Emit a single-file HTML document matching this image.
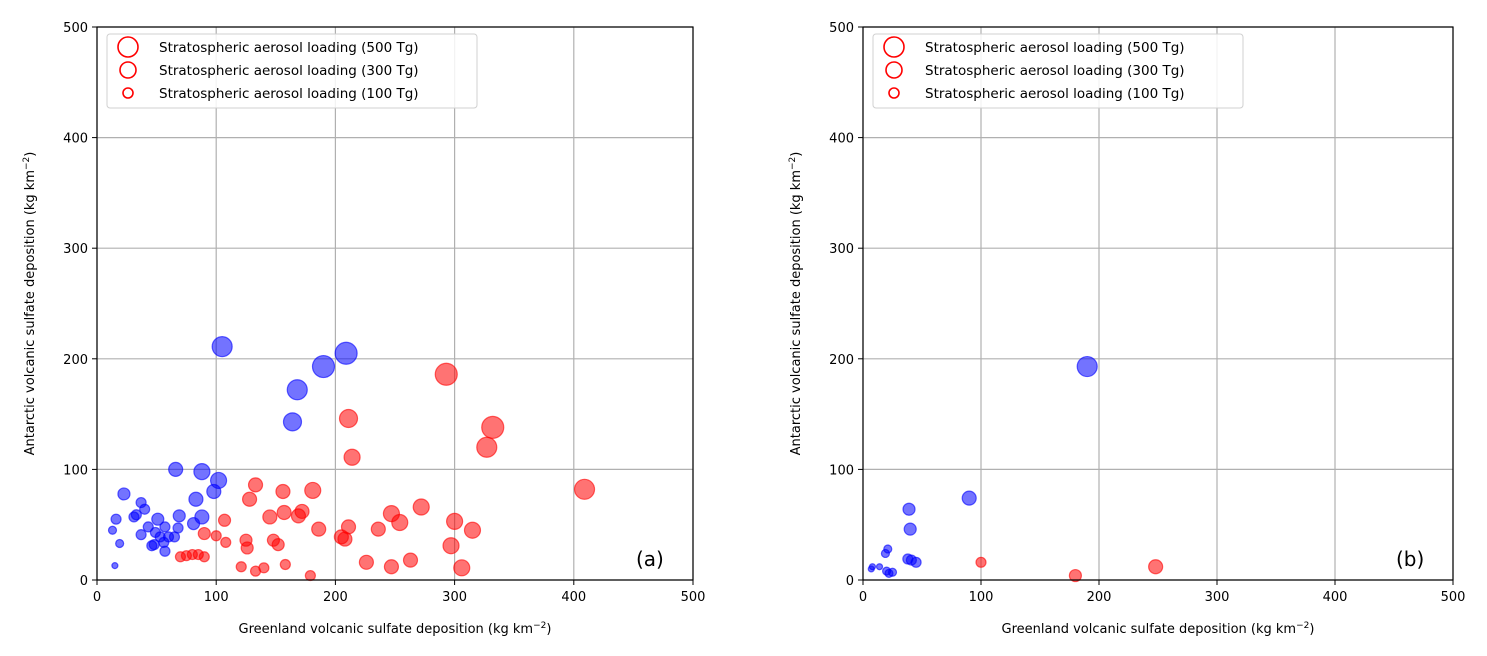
<!DOCTYPE html>
<html><head><meta charset="utf-8"><style>
body{margin:0;background:#fff;}
svg{display:block;font-family:"DejaVu Sans","Liberation Sans",sans-serif;}
</style></head><body>
<svg id="fig" width="1487" height="656" viewBox="0 0 1487 656"></svg>
<script>
// Panel (a) data: Greenland deposition, Antarctic deposition, marker radius (loading)
const aBlueX=[22.6,66,88,102,98,83,37,40,31,33,16,13,69,88,81,51,43,57,68,37,49,53,60,65,56,46,48,57,19,15,105,209,190,168,164];
const aBlueY=[77.8,100,98,90,80,73,70,64,57,59,55,45,58,57,51,55,48,48,47,41,43,39,39,39,34,31,32,26,33,13,211,205,193,172,143];
const aBlueR=[6,7,8,8,7,7,5,5,5,5,5,4,6,7,6,6,5,5,5,5,5,5,5,5,5,5,5,5,4,3,10,11,11,10,9];
const aRedX=[293,332,327,409,211,214,272,247,300,254,315,236,211,186,181,156,133,128,172,157,169,145,107,205,208,297,148,152,125,126,90,100,108,70,75,80,85,90,121,133,140,158,179,226,247,263,306];
const aRedY=[186,138,120,82,146,111,66,60,53,52,45,46,48,46,81,80,86,73,62,61,58,57,54,39,37,31,36,32,36,29,42,40,34,21,22,23,23,21,12,8,11,14,4,16,12,18,11];
const aRedR=[11,11,10,10,9,8,8,8,8,8,8,7,7,7,8,7,7,7,7,7,7,7,6,7,7,8,6,6,6,6,6,5,5,5,5,5,5,5,5,5,5,5,5,7,7,7,8];
// Panel (b) data
const bBlueX=[190,90,39,40,21,19,38,41,45,8,7,14,20,22,25];
const bBlueY=[193,74,64,46,28,24,19,18,16,12,10,12,8,6,7];
const bBlueR=[10,7,6,6,4,4,5,5,5,3,3,3,4,4,4];
const bRedX=[100,180,248];
const bRedY=[16,4,12];
const bRedR=[5,6,7];
const ticks=[0,100,200,300,400,500];
const legendLabels=["Stratospheric aerosol loading (500 Tg)","Stratospheric aerosol loading (300 Tg)","Stratospheric aerosol loading (100 Tg)"];
const legendR=[10,8,5];

const NS="http://www.w3.org/2000/svg";
const svg=document.getElementById('fig');
function mk(tag,attrs,parent){const e=document.createElementNS(NS,tag);for(const k in attrs)e.setAttribute(k,attrs[k]);(parent||svg).appendChild(e);return e;}

function panel(id,x0,x1,y0,y1,blue,red,tag){
  const g=mk('g',{});
  
  
  const sx=v=>x0+(x1-x0)*v/500, sy=v=>y0-(y0-y1)*v/500;
  ticks.forEach(t=>{
    const gv=mk('line',{x1:sx(t),x2:sx(t),y1:y1,y2:y0,stroke:'#b0b0b0','stroke-width':1.2},g);
    
    
    const gh=mk('line',{x1:x0,x2:x1,y1:sy(t),y2:sy(t),stroke:'#b0b0b0','stroke-width':1.2},g);
    
    
    mk('line',{x1:sx(t),x2:sx(t),y1:y0,y2:y0+5,stroke:'#000'},g);
    mk('line',{x1:x0-5,x2:x0,y1:sy(t),y2:sy(t),stroke:'#000'},g);
    const tx=mk('text',{x:sx(t),y:y0+21,'font-size':13,'text-anchor':'middle'},g);tx.textContent=t;
    
    
    const ty=mk('text',{x:x0-9,y:sy(t)+5,'font-size':13,'text-anchor':'end'},g);ty.textContent=t;
    
    
  });
  const draw=(xs,ys,rs,col,name)=>xs.forEach((v,i)=>{
    const c=mk('circle',{cx:sx(v),cy:sy(ys[i]),r:rs[i],fill:col,'fill-opacity':0.55,stroke:col,'stroke-opacity':0.6,'stroke-width':1.2},g);
    
    
  });
  draw(blue[0],blue[1],blue[2],'#0000ff','blue-point');
  draw(red[0],red[1],red[2],'#ff0000','red-point');
  const fr=mk('rect',{x:x0,y:y1,width:x1-x0,height:y0-y1,fill:'none',stroke:'#000','stroke-width':1.2},g);
  
  
  // legend
  const lg=mk('g',{},g);
  
  
  mk('rect',{x:x0+10,y:y1+7,width:370,height:74,rx:3,fill:'#fff','fill-opacity':0.85,stroke:'#d0d0d0'},lg);
  legendLabels.forEach((l,i)=>{
    const cy=y1+20+i*23;
    mk('circle',{cx:x0+31,cy:cy,r:legendR[i],fill:'none',stroke:'#ff0000','stroke-width':1.6},lg);
    const t=mk('text',{x:x0+62,y:cy+5,'font-size':13.5},lg);t.textContent=l;
    
    
  });
  const pl=mk('text',{x:x1-57,y:y0-14,'font-size':20},g);pl.textContent=tag;
  
  
  const xl=mk('text',{x:(x0+x1)/2,y:633,'font-size':13,'text-anchor':'middle'},g);
  xl.innerHTML='Greenland volcanic sulfate deposition (kg km<tspan dy="-5" font-size="9">\u22122</tspan><tspan dy="5">)</tspan>';
  
  
  const yl=mk('text',{x:0,y:0,'font-size':13,'text-anchor':'middle',transform:`translate(${x0-63},${(y0+y1)/2}) rotate(-90)`},g);
  yl.innerHTML='Antarctic volcanic sulfate deposition (kg km<tspan dy="-5" font-size="9">\u22122</tspan><tspan dy="5">)</tspan>';
  
  
}
panel('a',97,693,580,27,[aBlueX,aBlueY,aBlueR],[aRedX,aRedY,aRedR],'(a)');
panel('b',863,1453,580,27,[bBlueX,bBlueY,bBlueR],[bRedX,bRedY,bRedR],'(b)');
</script>
</body></html>
